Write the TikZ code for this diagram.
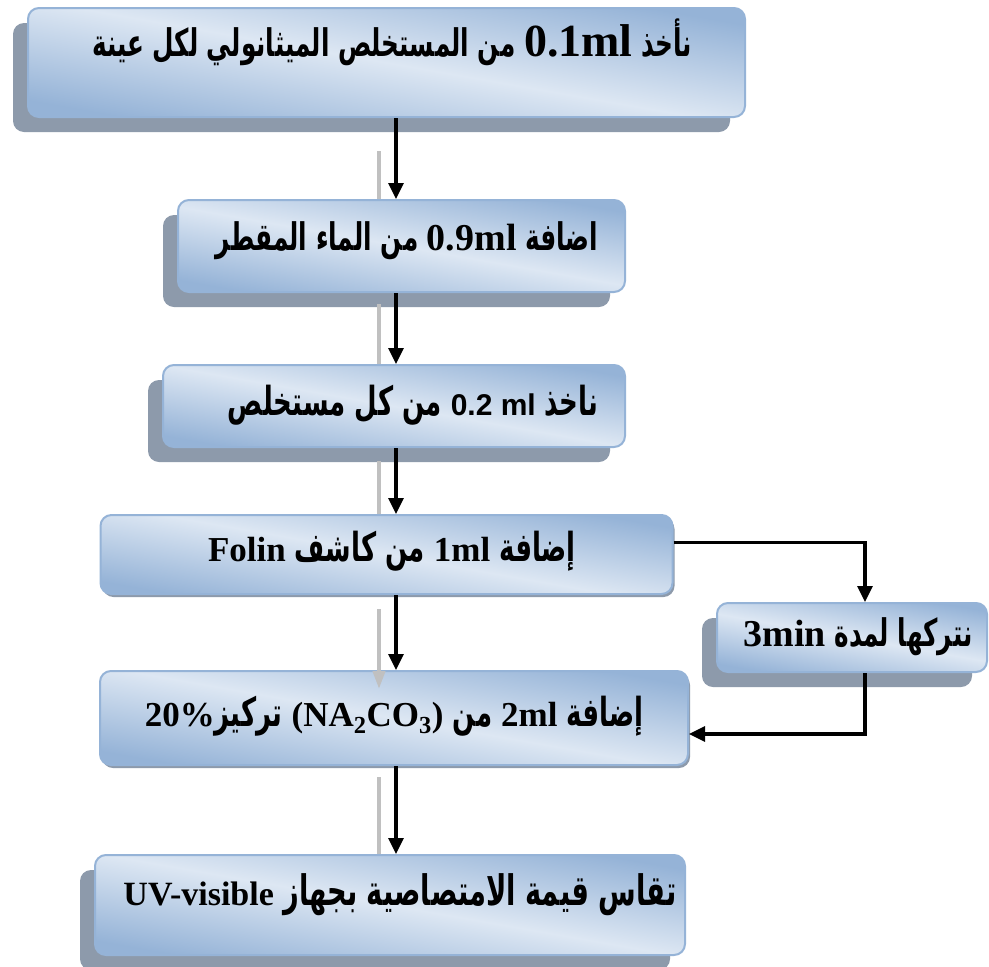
\documentclass[tikz,border=0pt]{standalone}
\usepackage{fontspec}
\usetikzlibrary{arrows.meta,shadows}
\TeXXeTstate=1
\newfontfamily\arabicfont[Script=Arabic,FakeStretch=0.65]{DejaVu Sans}
\newfontfamily\timesfont{Liberation Serif}
\newfontfamily\arialfont{Liberation Sans}
\definecolor{boxBlue}{RGB}{149,179,215}
\definecolor{boxLight}{RGB}{221,231,243}
\definecolor{boxShadow}{RGB}{141,154,171}
\definecolor{ghostGray}{RGB}{192,192,192}
\newcommand\lat[2][38]{{\timesfont\fontsize{#1}{#1}\selectfont\beginL#2\endL}}
\newcommand\sans[2][30]{{\arialfont\fontsize{#1}{#1}\selectfont\beginL#2\endL}}
\newcommand\arrowPosX{396}
\newcommand\ghostPosX{379}
\tikzset{
	stepbox/.style={draw=boxBlue, line width=2pt, rounded corners=11pt,
		top color=boxBlue, bottom color=boxBlue, middle color=boxLight,
		shading angle=-10, inner sep=0pt},
	bigshadow/.style={drop shadow={shadow xshift=-15pt, shadow yshift=-15pt, fill=boxShadow, opacity=1}},
	smallshadow/.style={drop shadow={shadow xshift=2pt, shadow yshift=-3pt, fill=boxShadow, opacity=1}},
	steptext/.style={font=\bfseries, inner sep=0pt},
	flow/.style={line width=3.2pt, -{Triangle[length=16pt,width=15pt]}},
	ghost/.style={line width=4pt, draw=ghostGray},
}

\begin{document}
\begin{tikzpicture}[x=1pt,y=-1pt]
	\useasboundingbox[fill=white] (0,0) rectangle (989,967);
	\coordinate (ax) at (\arrowPosX,0);
	\coordinate (gx) at (\ghostPosX,0);
	
	% boxes
	\node[stepbox, bigshadow, minimum width=717pt, minimum height=109pt] (b1) at (386.5,62.5) {};
	\node[stepbox, bigshadow, minimum width=447pt, minimum height=92pt] (b2) at (401.5,246) {};
	\node[stepbox, bigshadow, minimum width=462pt, minimum height=82pt] (b3) at (394,406) {};
	\node[stepbox, smallshadow, minimum width=572pt, minimum height=79pt] (b4) at (386.5,554.5) {};
	\node[stepbox, bigshadow, minimum width=270pt, minimum height=69pt] (b5) at (852,637.5) {};
	\node[stepbox, smallshadow, minimum width=588pt, minimum height=94pt] (b6) at (394,718) {};
	\node[stepbox, bigshadow, minimum width=590pt, minimum height=100pt] (b7) at (390,905) {};
	
	% texts
	\node[steptext] (t1) at (392,42) {\arabicfont\fontsize{38}{44}\selectfont
		\beginR نأخذ \lat[46]{0.1ml} من المستخلص الميثانولي لكل عينة\endR};
	\node[steptext] (t2) at (407,241) {\arabicfont\fontsize{38}{44}\selectfont
		\beginR اضافة \lat{0.9ml} من الماء المقطر\endR};
	\node[steptext] (t3) at (413,405) {\arabicfont\fontsize{40}{46}\selectfont
		\beginR ناخذ \sans{0.2 ml} من كل مستخلص\endR};
	\node[steptext] (t4) at (392,551) {\arabicfont\fontsize{40}{46}\selectfont
		\beginR إضافة \lat[35]{1ml} من كاشف \lat[35]{Folin}\endR};
	\node[steptext] (t5) at (858,637) {\arabicfont\fontsize{38}{44}\selectfont
		\beginR نتركها لمدة \lat{3min}\endR};
	\node[steptext] (t6) at (394,716) {\arabicfont\fontsize{40}{46}\selectfont
		\beginR إضافة \lat[35]{2ml} من \lat[35]{(NA\textsubscript{2}CO\textsubscript{3})} تركيز\lat[35]{20\%}\endR};
	\node[steptext] (t7) at (400,895) {\arabicfont\fontsize{42}{48}\selectfont
		\beginR تقاس قيمة الامتصاصية بجهاز \lat[34]{UV-visible}\endR};
	
	% grey guide lines
	\foreach \to/\len in {b2/48,b3/60,b4/53,b7/77}{
		\draw[ghost] (\to.north -| gx) ++(0,-\len) -- (\to.north -| gx);
	}
	\draw[ghost, -{Triangle[length=18pt,width=12pt]}] (b4.south -| gx) ++(0,14) -- ([yshift=-19pt]b6.north -| gx);
	
	% arrows
	\foreach \from/\to in {b1/b2,b2/b3,b3/b4,b4/b6,b6/b7}{
		\draw[flow] (\from.south -| ax) -- (\to.north -| ax);
	}
	\draw[flow] ([yshift=12pt]b4.east) -| ([xshift=13pt]b5.north);
	\draw[flow] ([xshift=13pt]b5.south) |- ([yshift=-16pt]b6.east);
\end{tikzpicture}
\end{document}
